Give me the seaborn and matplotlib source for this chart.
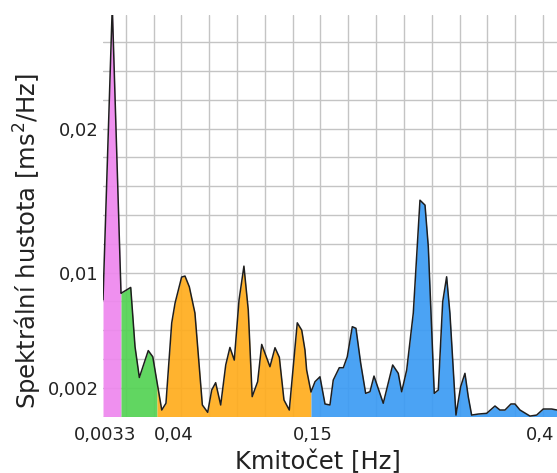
import numpy as np
import pandas as pd
import matplotlib
matplotlib.use('Agg')
import matplotlib.pyplot as plt
import matplotlib.transforms as mtransforms
from matplotlib.ticker import FixedLocator, MultipleLocator
import seaborn as sns

# HRV frequency bands [Hz] and their colours
BAND_EDGES = [0.0, 0.0033, 0.04, 0.15, 0.4]
BAND_COLORS = ['#ee88ee', '#55d355', '#ffad1f', '#3d9cf4']

# Spectrum, one pair of arrays per band
ulf_freq = [0.0, 0.0017, 0.0033]
ulf_psd = [0.0081, 0.0285, 0.0086]

vlf_freq = [0.0033, 0.0132, 0.0176, 0.0220, 0.0311, 0.0357, 0.04]
vlf_psd = [0.00856, 0.00897, 0.00485, 0.00271, 0.00458, 0.00415, 0.0024]

lf_freq = [0.04, 0.0434, 0.0464, 0.0505, 0.0529, 0.0576, 0.0600, 0.0631, 0.0671,
           0.0724, 0.0762, 0.0791, 0.0819, 0.0855, 0.0891, 0.0921, 0.0952, 0.0986,
           0.1021, 0.1052, 0.1080, 0.1119, 0.1148, 0.1207, 0.1243, 0.1274, 0.1307,
           0.1345, 0.1402, 0.1434, 0.1457, 0.1469, 0.15]
lf_psd = [0.0024, 0.00045, 0.00092, 0.00649, 0.00788, 0.00969, 0.00976, 0.00901, 0.00719,
          0.0008, 0.00029, 0.00184, 0.00235, 0.0008, 0.00358, 0.0048, 0.00392, 0.00809,
          0.01045, 0.0074, 0.00138, 0.00242, 0.00501, 0.00346, 0.00478, 0.00411, 0.00115,
          0.00045, 0.00651, 0.006, 0.00462, 0.00323, 0.0017]

hf_freq = [0.15, 0.1544, 0.1598, 0.1653, 0.1707, 0.1743, 0.1809, 0.1853, 0.1896, 0.1951,
           0.1991, 0.2043, 0.2097, 0.2144, 0.2188, 0.2289, 0.2392, 0.2453, 0.2490, 0.2545,
           0.2617, 0.2690, 0.2745, 0.2781, 0.2846, 0.2890, 0.2938, 0.2981, 0.3017, 0.3083,
           0.3134, 0.3181, 0.3217, 0.3254, 0.3326, 0.3418, 0.3509, 0.3563, 0.3618, 0.3683,
           0.3727, 0.3782, 0.3891, 0.3964, 0.4036, 0.4128, 0.4186]
hf_psd = [0.0017, 0.00242, 0.00276, 0.00087, 0.0008, 0.00253, 0.00339, 0.00339, 0.00415, 0.00624,
          0.00613, 0.00369, 0.00161, 0.00172, 0.00281, 0.00092, 0.00358, 0.003, 0.00172, 0.00323,
          0.00719, 0.01503, 0.01469, 0.01179, 0.00161, 0.00184, 0.00797, 0.00971, 0.00717, 0.0001,
          0.00207, 0.003, 0.00138, 0.0001, 0.00017, 0.00022, 0.00073, 0.00045, 0.00045, 0.00087,
          0.00087, 0.00045, 0.00003, 0.0001, 0.00052, 0.00052, 0.00045]

x_ticks = [0.0033, 0.04, 0.15, 0.4]
x_tick_labels = ['0,0033', '0,04', '0,15', '0,4']
y_ticks = [0.002, 0.01, 0.02]
y_tick_labels = ['0,002', '0,01', '0,02']

bands = [(ulf_freq, ulf_psd), (vlf_freq, vlf_psd), (lf_freq, lf_psd), (hf_freq, hf_psd)]

# Stretched frequency axis: each band gets its own width on screen
AXIS_F = [0.0, 0.0033, 0.04, 0.15, 0.4, 0.5]
AXIS_POS = [0.0, 18.0, 54.0, 208.0, 437.0, 528.6]


def forward(f):
    return np.interp(f, AXIS_F, AXIS_POS)


def inverse(p):
    return np.interp(p, AXIS_POS, AXIS_F)


sns.set_style('white')
plt.rcParams['font.family'] = ['DejaVu Sans']

fig = plt.figure(figsize=(5.57, 4.73), dpi=100)
ax = fig.add_axes([103 / 557, 1 - 416.5 / 473, 454 / 557, (416.5 - 15) / 473])
ax.set_xscale('function', functions=(forward, inverse))

for (freq, psd), color in zip(bands, BAND_COLORS):
    ax.fill_between(freq, 0, psd, color=color, alpha=0.93, linewidth=0, zorder=2)

spectrum = pd.DataFrame({
    'freq': np.concatenate([b[0] for b in bands]),
    'psd': np.concatenate([b[1] for b in bands]),
})
sns.lineplot(data=spectrum, x='freq', y='psd', estimator=None, sort=False,
             color='#1e1e1e', linewidth=1.1, ax=ax, zorder=3)

ax.set_xlim(0, 0.4186)
ax.set_ylim(0, 0.0279)

# grid: evenly spaced on screen in x, every 0.002 in y
grid_pos = 22.7 + 27.82 * np.arange(16)
ax.xaxis.set_minor_locator(FixedLocator(inverse(grid_pos)))
ax.yaxis.set_minor_locator(MultipleLocator(0.002))
ax.set_xticks(x_ticks)
ax.set_xticklabels(x_tick_labels)
ax.set_yticks(y_ticks)
ax.set_yticklabels(y_tick_labels)
ax.xaxis.grid(False, which='major')
ax.yaxis.grid(True, which='major', color='#c4c4c4', linewidth=1.0)
ax.grid(True, which='minor', color='#c4c4c4', linewidth=1.0)
ax.set_axisbelow(True)

ax.tick_params(axis='both', which='major', length=0, labelsize=13, colors='#222222')
ax.tick_params(axis='x', which='major', pad=7)
ax.tick_params(axis='y', which='major', pad=3)
ax.tick_params(axis='both', which='minor', length=3, width=1.0, color='#c4c4c4')

# spread the two crowded low-frequency labels apart
shifts = [-16, 17, 2, 0]
for lab, dx in zip(ax.get_xticklabels(), shifts):
    lab.set_transform(lab.get_transform() +
                      mtransforms.ScaledTranslation(dx / 100, 0, fig.dpi_scale_trans))

for s in ax.spines.values():
    s.set_visible(False)

ax.set_xlabel('Kmitočet [Hz]', fontsize=17.5, color='#222222')
ax.set_ylabel('Spektrální hustota [ms$^2$/Hz]', fontsize=17.5, color='#222222')
ax.xaxis.set_label_coords((318 - 103) / 454, -0.083)
ax.yaxis.set_label_coords(-0.13, 0.436)

fig.savefig('out.png', dpi=100)
